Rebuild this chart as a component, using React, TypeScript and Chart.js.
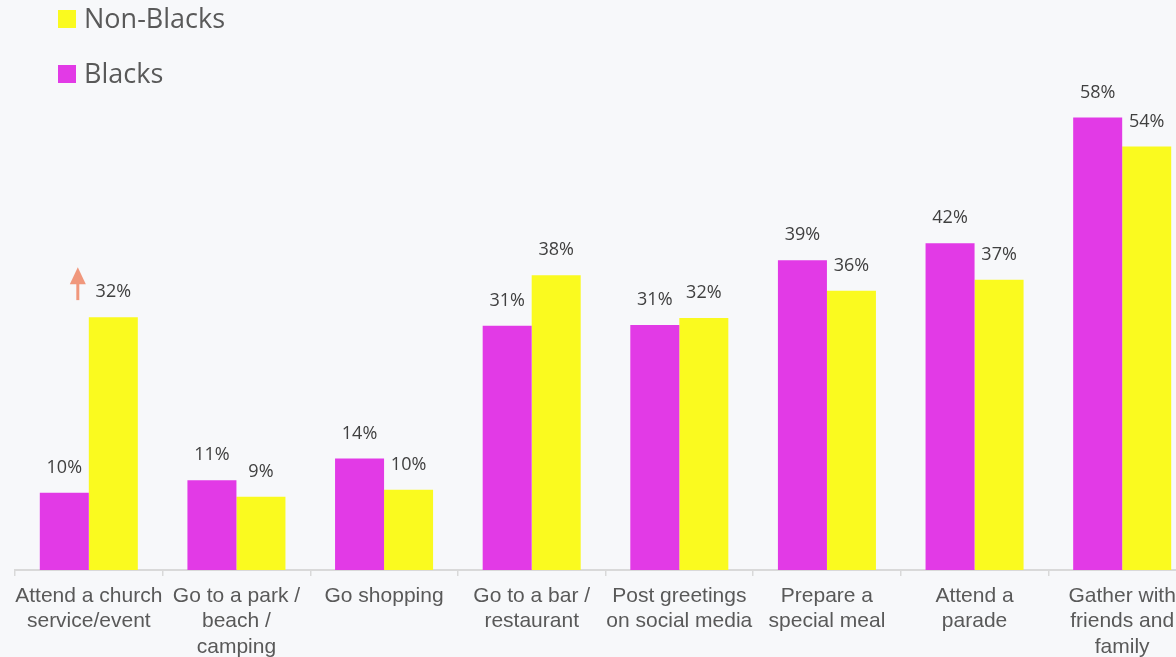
import React, { useEffect, useRef } from "react";
import { Chart, registerables } from "chart.js";

Chart.register(...registerables);

const categories: string[][] = [
  ["Attend a church", "service/event"],
  ["Go to a park /", "beach /", "camping"],
  ["Go shopping"],
  ["Go to a bar /", "restaurant"],
  ["Post greetings", "on social media"],
  ["Prepare a", "special meal"],
  ["Attend a", "parade"],
  ["Gather with", "friends and", "family"],
];
// bar heights
const blacks: number[] = [9.9, 11.5, 14.3, 31.3, 31.4, 39.7, 41.9, 58.0];
const nonBlacks: number[] = [32.4, 9.4, 10.3, 37.8, 32.3, 35.8, 37.2, 54.3];
// value labels as printed on the picture
const blacksLabels: string[] = ["10%", "11%", "14%", "31%", "31%", "39%", "42%", "58%"];
const nonBlacksLabels: string[] = ["32%", "9%", "10%", "38%", "32%", "36%", "37%", "54%"];
const legendItems: string[] = ["Non-Blacks", "Blacks"];

// annotation arrow (value range) over the first category
const arrowFrom = 34.6;
const arrowTo = 38.8;

const MAGENTA = "#e23ae6";
const YELLOW = "#fafa1f";

const labelPlugin = {
  id: "valueLabels",
  afterDatasetsDraw(chart: any) {
    const ctx = chart.ctx;
    const all = [blacksLabels, nonBlacksLabels];
    ctx.save();
    ctx.font = "18px 'Open Sans'";
    ctx.fillStyle = "#404040";
    ctx.textAlign = "center";
    ctx.textBaseline = "middle";
    chart.data.datasets.forEach((_ds: any, di: number) => {
      const meta = chart.getDatasetMeta(di);
      meta.data.forEach((bar: any, i: number) => {
        ctx.fillText(all[di][i], bar.x, bar.y - 25);
      });
    });
    ctx.restore();
  },
};

const legendPlugin = {
  id: "customLegend",
  afterDraw(chart: any) {
    const ctx = chart.ctx;
    ctx.save();
    const colors = [YELLOW, MAGENTA];
    legendItems.forEach((t, i) => {
      const y = 10 + i * 55;
      ctx.fillStyle = colors[i];
      ctx.fillRect(58, y, 18, 18);
      ctx.fillStyle = "#595959";
      ctx.font = "27px 'Open Sans'";
      ctx.textAlign = "left";
      ctx.textBaseline = "middle";
      ctx.fillText(t, 84, y + 10);
    });
    ctx.restore();
  },
};

const arrowPlugin = {
  id: "arrow",
  afterDatasetsDraw(chart: any) {
    const ctx = chart.ctx;
    const xs = chart.scales.x;
    const ys = chart.scales.y;
    const x = xs.getPixelForValue(0) - 11;
    const yb = ys.getPixelForValue(arrowFrom);
    const yt = ys.getPixelForValue(arrowTo);
    ctx.save();
    ctx.strokeStyle = "#f0977c";
    ctx.fillStyle = "#f0977c";
    ctx.lineWidth = 3;
    ctx.beginPath();
    ctx.moveTo(x, yb);
    ctx.lineTo(x, yt + 14);
    ctx.stroke();
    ctx.beginPath();
    ctx.moveTo(x, yt);
    ctx.lineTo(x - 8, yt + 17);
    ctx.lineTo(x + 8, yt + 17);
    ctx.closePath();
    ctx.fill();
    ctx.restore();
  },
};

export default function App() {
  const ref = useRef<HTMLCanvasElement | null>(null);
  useEffect(() => {
    if (!ref.current) return;
    const chart = new Chart(ref.current, {
      type: "bar",
      data: {
        labels: categories,
        datasets: [
          {
            label: "Blacks",
            data: blacks,
            backgroundColor: MAGENTA,
            categoryPercentage: 0.664,
            barPercentage: 1,
          },
          {
            label: "Non-Blacks",
            data: nonBlacks,
            backgroundColor: YELLOW,
            categoryPercentage: 0.664,
            barPercentage: 1,
          },
        ],
      },
      options: {
        animation: false,
        responsive: false,
        layout: { padding: { left: 15, right: 4, top: 24, bottom: 0 } },
        plugins: {
          legend: { display: false },
          tooltip: { enabled: false },
        },
        scales: {
          x: {
            grid: {
              offset: true,
              drawOnChartArea: false,
              drawTicks: true,
              tickLength: 6,
              color: "#d9d9d9",
              lineWidth: 1.5,
            },
            border: { display: true, color: "#d9d9d9", width: 2 },
            ticks: {
              color: "#595959",
              font: { family: "'Liberation Sans'", size: 21, lineHeight: 1.22 },
              padding: 7,
              maxRotation: 0,
              autoSkip: false,
            },
            afterFit(scale: any) {
              scale.height = 87;
            },
          },
          y: {
            display: false,
            min: 0,
            max: 70,
          },
        },
      },
      plugins: [labelPlugin, arrowPlugin, legendPlugin],
    });
    return () => chart.destroy();
  }, []);
  return (
    <div
      style={{
        position: "fixed",
        left: 0,
        top: 0,
        width: 1176,
        height: 657,
        overflow: "hidden",
        background: "#f7f8fa",
      }}
    >
      <canvas ref={ref} width={1200} height={657} style={{ width: 1200, height: 657, display: "block" }} />
    </div>
  );
}
